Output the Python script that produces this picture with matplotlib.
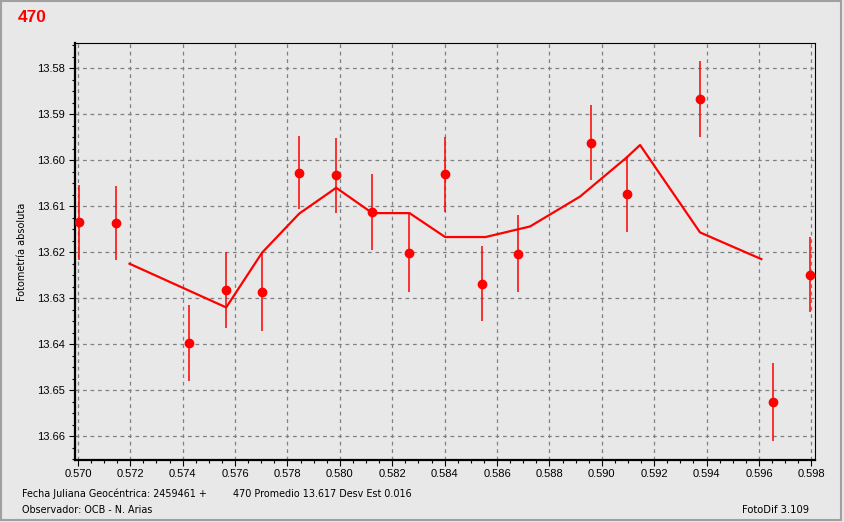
import matplotlib
matplotlib.use("Agg")
import matplotlib.pyplot as plt
from matplotlib.ticker import MultipleLocator, FormatStrFormatter
from matplotlib.patches import Rectangle

# Measurements (JD fraction, absolute photometry, error)
jd = [0.57004, 0.57146, 0.57425, 0.57566, 0.57703, 0.57845, 0.57986, 0.58124,
      0.58264, 0.58402, 0.58543, 0.58681, 0.58958, 0.59095, 0.59375, 0.59653,
      0.59795]
mag = [13.6135, 13.6136, 13.6397, 13.6282, 13.6286, 13.6027, 13.6033, 13.6112,
       13.6201, 13.6031, 13.6268, 13.6203, 13.5962, 13.6073, 13.5867, 13.6525,
       13.6249]
err = [0.0081, 0.0080, 0.0082, 0.0083, 0.0085, 0.0080, 0.0082, 0.0083,
       0.0085, 0.0082, 0.0082, 0.0084, 0.0082, 0.0082, 0.0082, 0.0085,
       0.0082]

# Smoothed curve
jd_avg = [0.57197, 0.57566, 0.57703, 0.57845, 0.57986, 0.58124, 0.58266,
          0.58402, 0.58556, 0.58726, 0.58917, 0.59095, 0.59146, 0.59375,
          0.59609]
mag_avg = [13.6225, 13.6320, 13.6201, 13.6116, 13.6060, 13.6115, 13.6115,
           13.6167, 13.6167, 13.6144, 13.6079, 13.5994, 13.5967, 13.6157,
           13.6215]

bg = "#e8e8e8"
fig = plt.figure(figsize=(8.44, 5.22), dpi=100, facecolor=bg)
ax = fig.add_axes([0.0889, 0.1193, 0.966 - 0.0889, 0.917 - 0.1193])
ax.set_facecolor(bg)

ax.plot(jd_avg, mag_avg, color="red", lw=1.6, zorder=3)
ax.errorbar(jd, mag, yerr=err, fmt="o", color="red", ms=6, elinewidth=1.1,
            capsize=0, zorder=4)

ax.set_xlim(0.56989, 0.59815)
ax.set_ylim(13.6651, 13.5746)

ax.xaxis.set_major_locator(MultipleLocator(0.002))
ax.xaxis.set_minor_locator(MultipleLocator(0.0005))
ax.yaxis.set_major_locator(MultipleLocator(0.01))
ax.yaxis.set_minor_locator(MultipleLocator(0.0025))
ax.xaxis.set_major_formatter(FormatStrFormatter("%.3f"))
ax.yaxis.set_major_formatter(FormatStrFormatter("%.2f"))

ax.grid(True, which="major", color="#808080", linestyle=(0, (3, 3)), lw=0.9)
ax.tick_params(which="major", direction="out", length=4, width=0.8,
               labelsize=8, pad=3)
ax.tick_params(which="minor", direction="out", length=2, width=0.8)
for lab in ax.get_xticklabels() + ax.get_yticklabels():
    lab.set_family("Liberation Sans")

ax.spines["left"].set_linewidth(1.6)
ax.spines["bottom"].set_linewidth(1.6)
ax.spines["top"].set_linewidth(0.8)
ax.spines["right"].set_linewidth(0.8)

ax.set_ylabel("Fotometría absoluta", fontsize=7, family="DejaVu Sans")
ax.yaxis.set_label_coords(-0.065, 0.5)

fig.text(18 / 844, 1 - 18 / 522, "470", color="red", fontsize=12.5,
         fontweight="bold", family="Liberation Sans", va="center")
fig.text(22 / 844, 1 - 494 / 522, "Fecha Juliana Geocéntrica: 2459461 +",
         fontsize=6.95, va="center")
fig.text(233 / 844, 1 - 494 / 522, "470 Promedio 13.617 Desv Est 0.016",
         fontsize=6.95, va="center")
fig.text(22 / 844, 1 - 510 / 522, "Observador: OCB - N. Arias",
         fontsize=6.95, va="center")
fig.text(742 / 844, 1 - 510 / 522, "FotoDif 3.109",
         fontsize=7.2, va="center")

fig.patches.append(Rectangle((0.001, 0.003), 0.996, 0.995,
                             transform=fig.transFigure, fill=False,
                             edgecolor="#a0a0a0", lw=1.5))

fig.savefig("out.png", dpi=100, facecolor=bg)
